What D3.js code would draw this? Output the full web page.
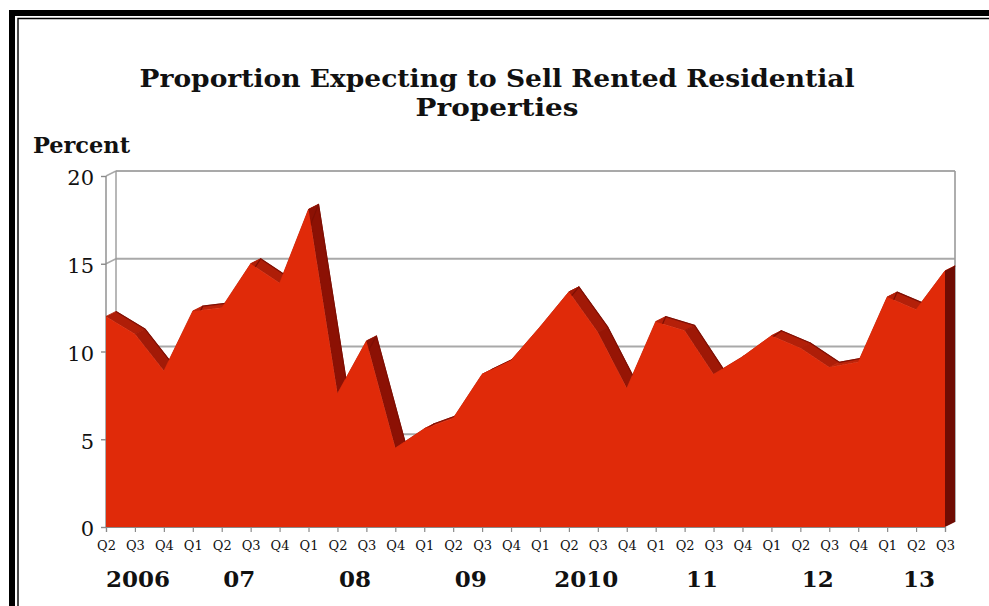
<!DOCTYPE html>
<html>
<head>
<meta charset="utf-8">
<script src="https://cdn.jsdelivr.net/npm/d3@7"></script>
<style>
  html, body { margin: 0; padding: 0; background: #fff; }
  svg { display: block; }
  text { font-family: "DejaVu Serif", "Liberation Serif", serif; fill: #111; }
</style>
</head>
<body>
<svg id="chart" width="989" height="606"></svg>
<script>
// Chart content
const titleLines = ["Proportion Expecting to Sell Rented Residential", "Properties"];
const yAxisTitle = "Percent";
const quarters = ["Q2","Q3","Q4",
  "Q1","Q2","Q3","Q4", "Q1","Q2","Q3","Q4", "Q1","Q2","Q3","Q4",
  "Q1","Q2","Q3","Q4", "Q1","Q2","Q3","Q4", "Q1","Q2","Q3","Q4",
  "Q1","Q2","Q3"];
const yearLabels = ["2006", "07", "08", "09", "2010", "11", "12", "13"];
const values = [12.0, 11.0, 8.9, 12.3, 12.5, 15.0, 13.9, 18.1, 7.6, 10.6,
                4.5, 5.6, 6.2, 8.7, 9.5, 11.4, 13.4, 11.1, 7.9, 11.7,
                11.2, 8.7, 9.7, 10.9, 10.2, 9.1, 9.4, 13.1, 12.4, 14.6];
const yTicks = [0, 5, 10, 15, 20];

const svg = d3.select("#chart");

// Layout of the pseudo-3D plot box
const front = { left: 106, right: 945, bottom: 527, top: 176 };
const depth = { dx: 10, dy: -5 };

const idx = d3.range(values.length);
const x = d3.scalePoint().domain(idx).range([front.left, front.right]);
const y = d3.scaleLinear().domain([0, 20]).range([front.bottom, front.top]);

// Group quarters into years (a new year starts at each Q1)
const yearOf = [];
let yr = 0;
quarters.forEach((q, i) => { if (q === "Q1" && i > 0) yr++; yearOf.push(yr); });

// Frame
svg.append("path")
  .attr("d", "M12,606 L12,13 L989,13")
  .attr("fill", "none").attr("stroke", "#000").attr("stroke-width", 6);
svg.append("path")
  .attr("d", "M18,606 L18,18.5 L989,18.5")
  .attr("fill", "none").attr("stroke", "#000").attr("stroke-width", 1.4);

// Title
const title = svg.append("g").attr("font-weight", "bold");
title.append("text")
  .attr("x", 497).attr("y", 87)
  .attr("text-anchor", "middle")
  .attr("font-size", 25)
  .attr("textLength", 715).attr("lengthAdjust", "spacingAndGlyphs")
  .text(titleLines[0]);
title.append("text")
  .attr("x", 497).attr("y", 116)
  .attr("text-anchor", "middle")
  .attr("font-size", 25)
  .attr("textLength", 163).attr("lengthAdjust", "spacingAndGlyphs")
  .text(titleLines[1]);

// Axis title
svg.append("text")
  .attr("x", 33).attr("y", 153)
  .attr("font-weight", "bold").attr("font-size", 22)
  .attr("textLength", 97).attr("lengthAdjust", "spacingAndGlyphs")
  .text(yAxisTitle);

// Back wall and gridlines
const wall = svg.append("g");
const bx0 = front.left + depth.dx, bx1 = front.right + depth.dx;
wall.selectAll("line.grid")
  .data(yTicks.filter(t => t > 0))
  .join("line")
  .attr("class", "grid")
  .attr("x1", bx0).attr("x2", bx1)
  .attr("y1", d => y(d) + depth.dy).attr("y2", d => y(d) + depth.dy)
  .attr("stroke", "#a9a9a9").attr("stroke-width", 1.8);
// side wall diagonals
wall.selectAll("line.side")
  .data(yTicks)
  .join("line")
  .attr("class", "side")
  .attr("x1", front.left).attr("x2", bx0)
  .attr("y1", d => y(d)).attr("y2", d => y(d) + depth.dy)
  .attr("stroke", "#a9a9a9").attr("stroke-width", 1.4);
// wall edges
wall.append("line")
  .attr("x1", bx0).attr("x2", bx0)
  .attr("y1", y(20) + depth.dy).attr("y2", y(0) + depth.dy)
  .attr("stroke", "#9a9a9a").attr("stroke-width", 1.4);
wall.append("line")
  .attr("x1", bx1).attr("x2", bx1)
  .attr("y1", y(20) + depth.dy).attr("y2", y(0) + depth.dy)
  .attr("stroke", "#9a9a9a").attr("stroke-width", 1.6);
wall.append("line")
  .attr("x1", front.left).attr("x2", front.left)
  .attr("y1", y(20)).attr("y2", y(0))
  .attr("stroke", "#8a8a8a").attr("stroke-width", 1.4);

// Area ribbon
const F = i => [x(i), y(values[i])];
const B = i => [x(i) + depth.dx, y(values[i]) + depth.dy];
const step = x.step();
const topShade = d3.interpolateRgb("#c4260b", "#8c1104");
const shadeOf = i => {
  const s = (y(values[i + 1]) - y(values[i])) / step; // >0 when descending
  return topShade(Math.max(0, Math.min(1, (s + 0.5) / 3)));
};

const ribbon = svg.append("g");
ribbon.selectAll("path.top")
  .data(idx.slice(0, -1))
  .join("path")
  .attr("class", "top")
  .attr("d", i => "M" + [F(i), F(i + 1), B(i + 1), B(i)].map(p => p.join(",")).join("L") + "Z")
  .attr("fill", shadeOf)
  .attr("stroke", shadeOf)
  .attr("stroke-width", 0.8)
  .attr("stroke-linejoin", "round");

// back edge of the ribbon
ribbon.append("path")
  .attr("d", d3.line().x(i => B(i)[0]).y(i => B(i)[1])(idx))
  .attr("fill", "none")
  .attr("stroke", "#7e0f04")
  .attr("stroke-width", 1.2)
  .attr("stroke-linejoin", "round");

const area = d3.area()
  .x(i => x(i))
  .y0(y(0))
  .y1(i => y(values[i]));
ribbon.append("path")
  .attr("d", area(idx))
  .attr("fill", "#e02a09");

// right end face
const last = values.length - 1;
ribbon.append("path")
  .attr("d", "M" + [F(last), B(last), [x(last) + depth.dx, y(0) + depth.dy], [x(last), y(0)]]
    .map(p => p.join(",")).join("L") + "Z")
  .attr("fill", "#6f0c03");

// Y axis ticks and labels
const yAxis = svg.append("g")
  .attr("transform", `translate(${front.left},0)`)
  .call(d3.axisLeft(y).tickValues(yTicks).tickSize(5).tickPadding(7).tickFormat(d3.format("d")));
yAxis.select(".domain").remove();
yAxis.selectAll(".tick line").attr("stroke", "#8a8a8a").attr("stroke-width", 1.4);
yAxis.selectAll(".tick text")
  .attr("font-family", "DejaVu Serif, serif")
  .attr("font-size", 21)
  .attr("fill", "#111")
  .attr("dy", "0.42em");

// X axis ticks and quarter labels
const xAxis = svg.append("g")
  .attr("transform", `translate(0,${front.bottom})`)
  .call(d3.axisBottom(x).tickSize(5).tickPadding(9).tickFormat(i => quarters[i]));
xAxis.select(".domain").attr("stroke", "#8a8a8a").attr("stroke-width", 1.2);
xAxis.selectAll(".tick line").attr("stroke", "#8a8a8a").attr("stroke-width", 1.2);
xAxis.selectAll(".tick text")
  .attr("font-family", "'DejaVu Serif Condensed', 'DejaVu Serif', serif")
  .attr("font-size", 13)
  .attr("fill", "#222");

// Year labels centred under their quarters
const yearPos = yearLabels.map((label, k) => {
  const members = idx.filter(i => yearOf[i] === k);
  return { label, cx: d3.mean(members, i => x(i)) };
});
svg.append("g")
  .selectAll("text")
  .data(yearPos)
  .join("text")
  .attr("x", d => d.cx + 3)
  .attr("y", 587)
  .attr("text-anchor", "middle")
  .attr("font-weight", "bold")
  .attr("font-size", 23)
  .text(d => d.label);
</script>
</body>
</html>
